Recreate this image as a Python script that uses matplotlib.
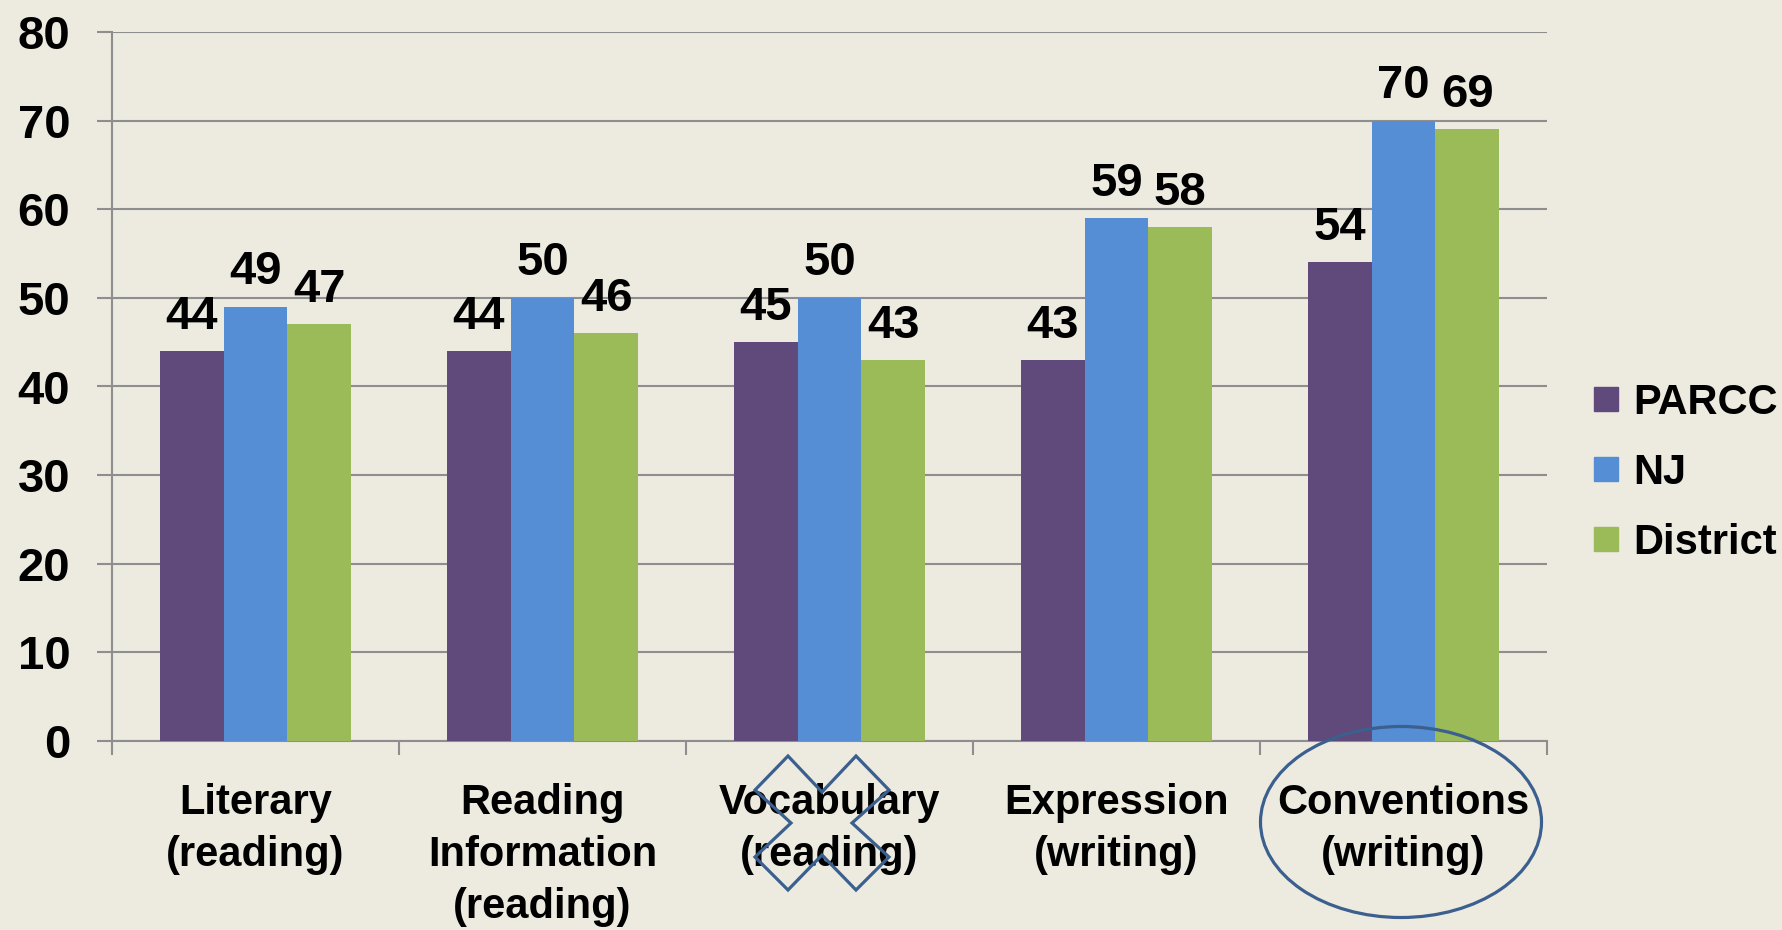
import matplotlib
matplotlib.use("Agg")
import matplotlib.pyplot as plt
from matplotlib.lines import Line2D
from matplotlib.patches import Polygon, Ellipse
import numpy as np

categories = ["Literary\n(reading)", "Reading\nInformation\n(reading)", "Vocabulary\n(reading)",
              "Expression\n(writing)", "Conventions\n(writing)"]
series_names = ["PARCC", "NJ", "District"]
parcc = [44, 44, 45, 43, 54]
nj = [49, 50, 50, 59, 70]
district = [47, 46, 43, 58, 69]
colors = ["#604A7B", "#558ED5", "#9BBB59"]
bg = "#EDEBE0"
grid_c = "#8E8E8E"
mark_c = "#3B5F8E"

plt.rcParams["font.family"] = ["Liberation Sans", "DejaVu Sans"]
plt.rcParams["font.weight"] = "bold"
fs = 30
nfs = 34  # numbers look bigger in the original

W, H = 1783, 930
fig = plt.figure(figsize=(W / 100, H / 100), dpi=100, facecolor=bg)
ax = fig.add_axes([112 / W, 1 - 741 / H, (1547 - 112) / W, (741 - 32) / H])
ax.set_facecolor(bg)

x = np.arange(len(categories)) + 0.5
bw = 0.222
for k, vals in enumerate([parcc, nj, district]):
    pos = x + (k - 1) * bw
    bars = ax.bar(pos, vals, width=bw, color=colors[k], zorder=3, label=series_names[k])
    for b, v in zip(bars, vals):
        ax.text(b.get_x() + b.get_width() / 2, v + 1.4, str(v), ha="center", va="bottom",
                fontsize=nfs, fontweight="bold", zorder=4)

ax.set_xlim(0, 5)
ax.set_ylim(0, 80)
ax.set_yticks(range(0, 81, 10))
ax.yaxis.grid(True, color=grid_c, linewidth=1.5, zorder=0)
ax.tick_params(axis="y", direction="out", length=11, width=1.5, color=grid_c, pad=19,
               labelsize=nfs)
for t in ax.get_yticklabels():
    t.set_fontweight("bold")

ax.set_xticks(range(0, 6))
ax.set_xticklabels([])
ax.set_xticks(x, minor=True)
ax.set_xticklabels(categories, minor=True, fontsize=fs, fontweight="bold", linespacing=1.4)
ax.tick_params(axis="x", which="major", direction="out", length=10, width=1.5, color=grid_c)
ax.tick_params(axis="x", which="minor", length=0, pad=30)

for s in ["top", "right"]:
    ax.spines[s].set_visible(False)
for s in ["left", "bottom"]:
    ax.spines[s].set_color(grid_c)
    ax.spines[s].set_linewidth(1.5)

handles = [Line2D([], [], marker="s", linestyle="none", markersize=17, color=c) for c in colors]
fig.legend(handles, series_names, loc="center left", bbox_to_anchor=(1594 / W, 1 - 473 / H),
           frameon=False, fontsize=fs, handlelength=0.6, handletextpad=0.35, labelspacing=0.72,
           borderpad=0, borderaxespad=0)

# annotation shapes (figure pixel coordinates, y measured from top)
cross_px = [(788, 756), (822, 792), (856, 756), (889, 790), (852, 823), (889, 857),
            (856, 890), (822, 855), (788, 890), (755, 857), (791, 823), (755, 790)]
cross = Polygon([(px / W, 1 - py / H) for px, py in cross_px], closed=True, fill=False,
                edgecolor=mark_c, linewidth=2.3, transform=fig.transFigure)
fig.patches.append(cross)
ell = Ellipse((1401 / W, 1 - 822 / H), 281 / W, 191 / H, fill=False, edgecolor=mark_c,
              linewidth=2.3, transform=fig.transFigure)
fig.patches.append(ell)

fig.savefig("out.png", dpi=100, facecolor=bg)
